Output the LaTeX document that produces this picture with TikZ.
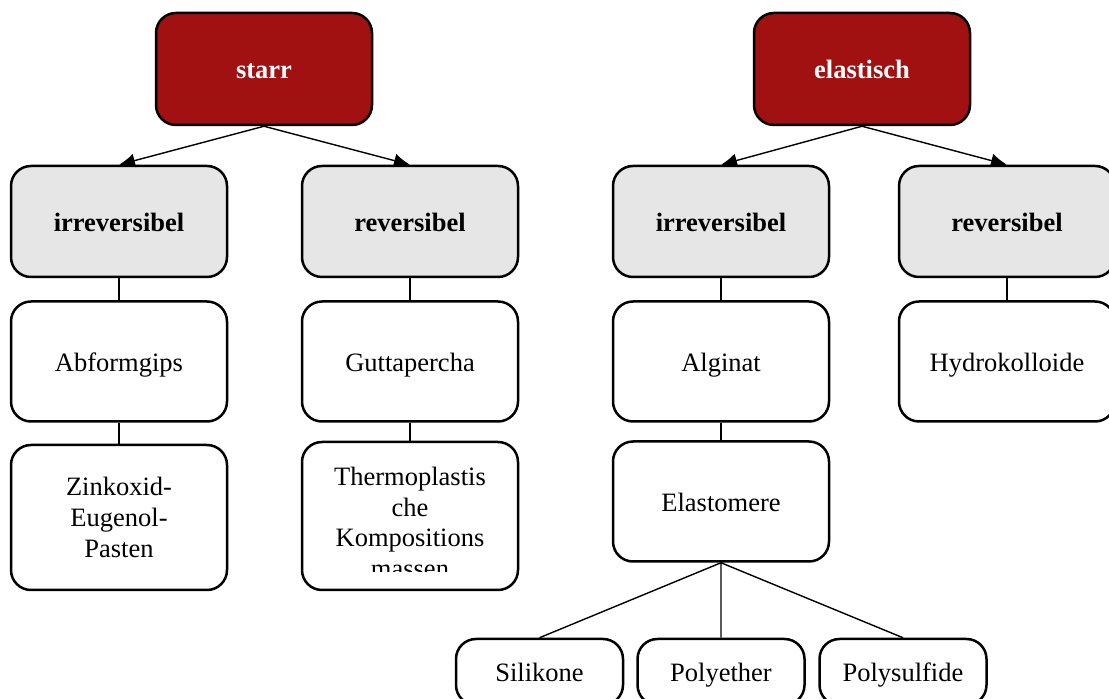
\documentclass[tikz,border=0pt]{standalone}
\usepackage{fontspec}
\setmainfont{Liberation Serif}
\usetikzlibrary{arrows.meta}
\definecolor{starrred}{HTML}{A11111}
\definecolor{boxgray}{HTML}{E6E6E6}

\begin{document}
\begin{tikzpicture}[x=0.5pt, y=-0.5pt, font=\fontsize{13.25}{15.35}\selectfont,
	oneline/.style={text height=1.2em, text depth=0.22em},
	headbox/.style={draw, line width=1.25pt, rounded corners=10pt, fill=starrred, text=white, font=\fontsize{13.25}{15.35}\selectfont\bfseries, minimum width=108pt, minimum height=56pt, oneline},
	groupbox/.style={draw, line width=1.25pt, rounded corners=10pt, fill=boxgray, font=\fontsize{13.25}{15.35}\selectfont\bfseries, minimum width=108pt, minimum height=55.5pt, oneline},
	itembox/.style={draw, line width=1.25pt, rounded corners=10pt, fill=white, minimum width=108pt, minimum height=60pt, align=center},
	arr/.style={-{Latex[length=8pt,width=7pt]}, line width=0.7pt}]
	\useasboundingbox (0,0) rectangle (1109,699);
	\clip (0,0) rectangle (1109,699);

	\node[headbox] (starr) at (264,69) {starr}; \node[headbox] (elast) at (862,69) {elastisch};

	\node[groupbox] (irrL) at (119,221.5) {irreversibel}; \node[groupbox] (revL) at (410,221.5) {reversibel};
	\node[groupbox] (irrR) at (721,221.5) {irreversibel}; \node[groupbox] (revR) at (1007,221.5) {reversibel};

	\node[itembox, oneline] (abform) at (119,361.5) {Abformgips}; \node[itembox, oneline] (gutta) at (410,361.5) {Guttapercha};
	\node[itembox, oneline] (algin) at (721,361.5) {Alginat}; \node[itembox, oneline] (hydro) at (1007,361.5) {Hydrokolloide};

	\node[itembox, minimum height=72.5pt] (zink) at (119,517.5) {Zinkoxid-\\Eugenol-\\Pasten};
	\node[itembox, minimum height=74pt] (thermo) at (410,516) {};
	\begin{scope}
		\clip (301,441) rectangle (519,572);
		\node[align=center] (thermotext) at (410,522.5) {Thermoplastis\\che\\Kompositions\\massen};
	\end{scope}
	\node[itembox, oneline] (elastom) at (721,501.5) {Elastomere};

	\node[itembox, oneline, minimum width=83.5pt, minimum height=33pt] (silik) at (539.5,672) {Silikone};
	\node[itembox, oneline, minimum width=83.5pt, minimum height=33pt] (polye) at (721,672) {Polyether};
	\node[itembox, oneline, minimum width=83.5pt, minimum height=33pt] (polys) at (903,672) {Polysulfide};

	\draw[arr] (starr.south) -- (irrL.north); \draw[arr] (starr.south) -- (revL.north);
	\draw[arr] (elast.south) -- (irrR.north); \draw[arr] (elast.south) -- (revR.north);

	\draw[line width=0.7pt] (irrL) -- (abform) (abform) -- (zink);
	\draw[line width=0.7pt] (revL) -- (gutta) (gutta) -- (thermo);
	\draw[line width=0.7pt] (irrR) -- (algin) (algin) -- (elastom);
	\draw[line width=0.7pt] (revR) -- (hydro);
	\draw[line width=0.7pt] (elastom.south) -- (silik.north) (elastom.south) -- (polye.north) (elastom.south) -- (polys.north);
\end{tikzpicture}
\end{document}
